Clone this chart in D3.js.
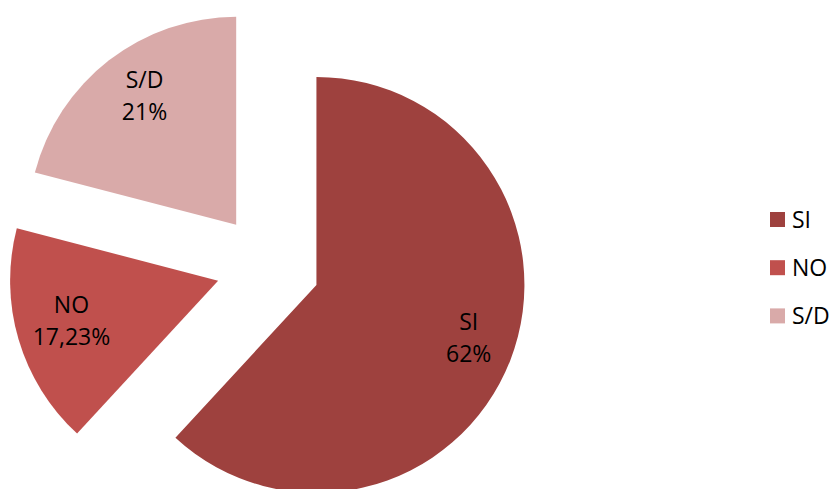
<!DOCTYPE html>
<html>
<head>
<meta charset="utf-8">
<script src="https://cdn.jsdelivr.net/npm/d3@7"></script>
<style>
  body { margin: 0; background: #fff; }
  svg text { font-family: "Open Sans", "Liberation Sans", sans-serif; fill: #000; }
</style>
</head>
<body>
<div class="canvas"></div>
<script>
// data
const categories = ["SI", "NO", "S/D"];
const values = [62, 17.23, 21];
const valueLabels = ["62%", "17,23%", "21%"];

// colors per slice
const sliceColors = ["#9e413e", "#c0504d", "#d9aaa9"];

// dimensions
const w = 833;
const h = 489;
const cx = 268;
const cy = 266;
const radius = 208;
const explode = 52;
const labelRatio = 0.76;
const labelShift = [5, -4]; // small nudge of the data labels
const fontSize = 23;

const svg = d3.select(".canvas").append("svg").attr("width", w).attr("height", h);

const pie = d3.pie().sort(null).value(d => d);
const arcs = pie(values);

const arc = d3.arc().innerRadius(0).outerRadius(radius);
const labelArc = d3.arc().innerRadius(radius * labelRatio).outerRadius(radius * labelRatio);

// offset of an exploded slice along its mid angle
const offset = d => {
  const mid = (d.startAngle + d.endAngle) / 2;
  return [explode * Math.sin(mid), -explode * Math.cos(mid)];
};

const slices = svg
  .append("g")
  .attr("transform", `translate(${cx}, ${cy})`)
  .selectAll("g")
  .data(arcs)
  .enter()
  .append("g")
  .attr("transform", d => `translate(${offset(d)[0]}, ${offset(d)[1]})`);

slices
  .append("path")
  .attr("d", arc)
  .attr("fill", (d, i) => sliceColors[i]);

// data labels: category on top, percentage below
const labels = slices
  .append("text")
  .attr("text-anchor", "middle")
  .style("font-size", fontSize + "px")
  .attr("transform", d => {
    const [x, y] = labelArc.centroid(d);
    return `translate(${x + labelShift[0]}, ${y + labelShift[1]})`;
  });

labels.append("tspan").attr("x", 0).attr("y", -8).text((d, i) => categories[i]);
labels.append("tspan").attr("x", 0).attr("y", 24).text((d, i) => valueLabels[i]);

// legend
const legend = svg
  .append("g")
  .attr("transform", "translate(770, 212)");

const legendItems = legend
  .selectAll("g")
  .data(categories)
  .enter()
  .append("g")
  .attr("transform", (d, i) => `translate(0, ${i * 48.2})`);

legendItems
  .append("rect")
  .attr("width", 15)
  .attr("height", 15)
  .attr("fill", (d, i) => sliceColors[i]);

legendItems
  .append("text")
  .attr("x", 22)
  .attr("y", 16)
  .style("font-size", fontSize + "px")
  .text(d => d);
</script>
</body>
</html>
